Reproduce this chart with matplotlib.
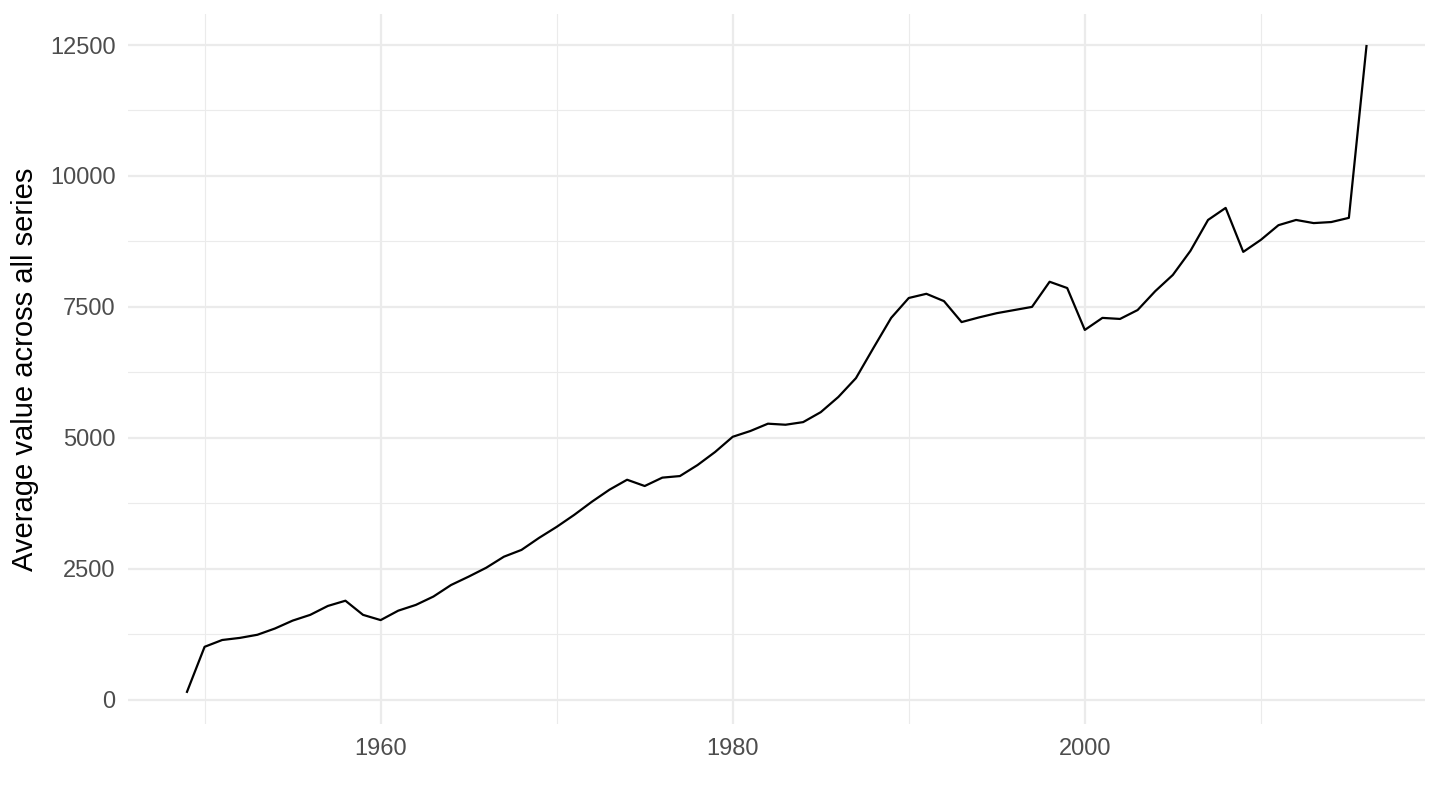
import matplotlib
matplotlib.use("Agg")
import matplotlib.pyplot as plt
from matplotlib.ticker import MultipleLocator

# data
years = list(range(1949, 2017))
avg_value = [
    150, 1010, 1140, 1180, 1240, 1360, 1510, 1620, 1790, 1890,
    1620, 1520, 1700, 1810, 1970, 2190, 2350, 2520, 2730, 2860,
    3090, 3300, 3530, 3780, 4010, 4200, 4080, 4240, 4270, 4480,
    4730, 5020, 5130, 5270, 5250, 5300, 5490, 5780, 6140, 6720,
    7290, 7670, 7750, 7610, 7210, 7300, 7380, 7440, 7500, 7980,
    7860, 7060, 7290, 7270, 7440, 7800, 8110, 8570, 9160, 9390,
    8550, 8780, 9060, 9160, 9100, 9120, 9200, 12480,
]
x_ticks = [1960, 1980, 2000]
y_ticks = [0, 2500, 5000, 7500, 10000, 12500]

plt.rcParams['font.family'] = ['Liberation Sans', 'DejaVu Sans']

fig = plt.figure(figsize=(14.4, 8.1), dpi=100)
ax = fig.add_axes([0.0889, 0.106, 0.901, 0.877])

ax.plot(years, avg_value, color='black', lw=1.6, zorder=3)

# ggplot-like padding
xpad = (max(years) - min(years)) * 0.05
ypad = (max(avg_value) - min(avg_value)) * 0.05
ax.set_xlim(min(years) - xpad, max(years) + xpad)
ax.set_ylim(min(avg_value) - ypad, max(avg_value) + ypad)

ax.set_xticks(x_ticks)
ax.set_yticks(y_ticks)
ax.xaxis.set_minor_locator(MultipleLocator(10))
ax.yaxis.set_minor_locator(MultipleLocator(1250))

ax.grid(which='major', color='#EBEBEB', lw=1.6)
ax.grid(which='minor', color='#EBEBEB', lw=0.8)
ax.set_axisbelow(True)
for s in ax.spines.values():
    s.set_visible(False)
ax.tick_params(which='both', length=0)
ax.tick_params(axis='both', labelsize=17, labelcolor='#4D4D4D')
ax.tick_params(axis='x', pad=10)
ax.tick_params(axis='y', pad=9)

ax.set_ylabel('Average value across all series', fontsize=21, color='black', labelpad=8)

fig.savefig('out.png', dpi=100)
